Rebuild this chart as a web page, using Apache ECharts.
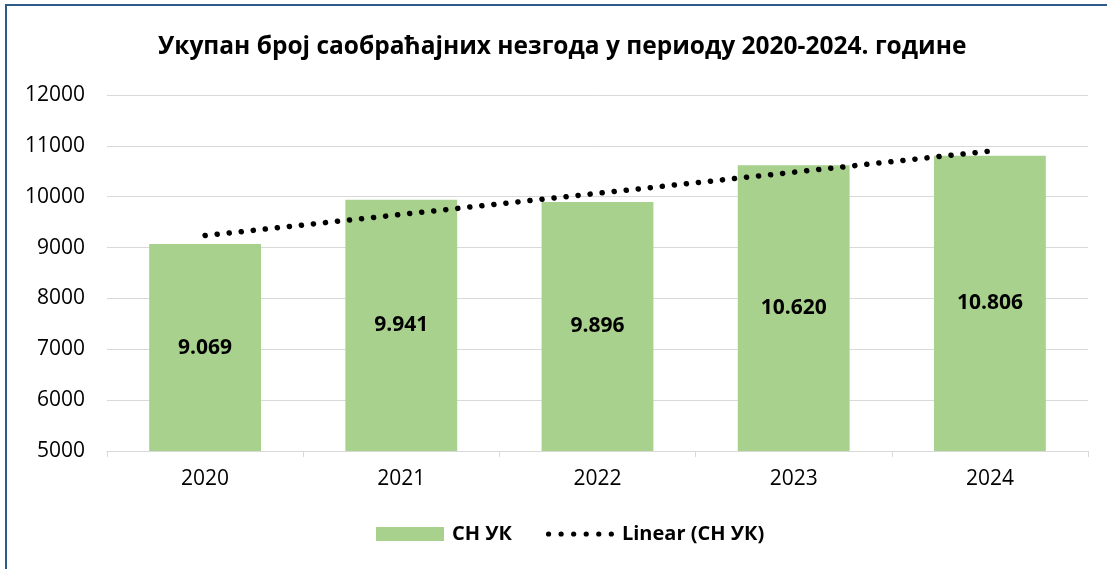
<!DOCTYPE html>
<html>
<head>
<meta charset="utf-8">
<script src="https://cdn.jsdelivr.net/npm/echarts@6/dist/echarts.min.js"></script>
<style>
  html, body { margin: 0; padding: 0; background: #fff; overflow: hidden; }
  #frame {
    position: absolute; left: 5px; top: 4px; width: 1200px; height: 700px;
    border-left: 2px solid #2e5a88; border-top: 2px solid #2e5a88;
  }
  #chart { position: absolute; left: 0; top: 0; width: 1107px; height: 569px; }
</style>
</head>
<body>
<div id="frame"></div>
<div id="chart"></div>
<script>
// podaci očitani sa slike
const years = ['2020', '2021', '2022', '2023', '2024']
const accidents = [9069, 9941, 9896, 10620, 10806]
// linearni trend: krajnje tačke očitane sa slike
const trend = [9236, null, null, null, 10897]
const yTicks = { min: 5000, max: 12000, step: 1000 }

const font = '"Open Sans", "Noto Sans", sans-serif'

// ikonica za legendu trenda: šest tačaka
const dotsIcon = 'path://' + [0, 1, 2, 3, 4, 5].map(i => {
  const cx = 2.5 + i * 12
  return `M${cx - 2.5},2.5a2.5,2.5 0 1,0 5,0a2.5,2.5 0 1,0 -5,0Z`
}).join(' ')

const chart = echarts.init(document.getElementById('chart'), null, { renderer: 'canvas' })

chart.setOption({
  backgroundColor: 'transparent',
  animation: false,
  textStyle: { fontFamily: font },
  title: {
    text: 'Укупан број саобраћајних незгода у периоду 2020-2024. године',
    left: 153,
    top: 30,
    textStyle: { fontSize: 24.5, fontWeight: 'bold', color: '#000', fontFamily: font }
  },
  grid: { left: 107, right: 19, top: 95, bottom: 118 },
  legend: {
    bottom: 20,
    left: 371,
    itemWidth: 68,
    itemHeight: 14,
    itemGap: 34,
    textStyle: { fontSize: 20, fontWeight: 'bold', color: '#000', fontFamily: font, padding: [0, 0, 0, 3] },
    data: [
      { name: 'СН УК', icon: 'rect' },
      { name: 'Linear (СН УК)', icon: dotsIcon, itemStyle: { color: '#000' } }
    ]
  },
  xAxis: {
    type: 'category',
    data: years,
    axisLine: { lineStyle: { color: '#d9d9d9', width: 1 } },
    axisTick: { show: true, length: 6, lineStyle: { color: '#d9d9d9' } },
    axisLabel: { fontSize: 21, color: '#000', margin: 18, fontFamily: font }
  },
  yAxis: {
    type: 'value',
    min: yTicks.min,
    max: yTicks.max,
    interval: yTicks.step,
    axisLine: { show: false },
    axisTick: { show: false },
    splitLine: { lineStyle: { color: '#d9d9d9', width: 1 } },
    axisLabel: { fontSize: 21, color: '#000', margin: 22, fontFamily: font, formatter: v => String(v) }
  },
  series: [
    {
      name: 'СН УК',
      type: 'bar',
      data: accidents,
      barWidth: '57%',
      itemStyle: { color: '#a9d18e' },
      label: {
        show: true,
        position: 'inside',
        fontSize: 21,
        fontWeight: 'bold',
        color: '#000',
        fontFamily: font,
        formatter: p => p.value.toLocaleString('de-DE')
      }
    },
    {
      name: 'Linear (СН УК)',
      type: 'line',
      data: trend,
      connectNulls: true,
      symbol: 'none',
      z: 5,
      lineStyle: { color: '#000', width: 5.5, type: [0.1, 12], cap: 'round' },
      itemStyle: { color: '#000' }
    }
  ]
})
</script>
</body>
</html>
